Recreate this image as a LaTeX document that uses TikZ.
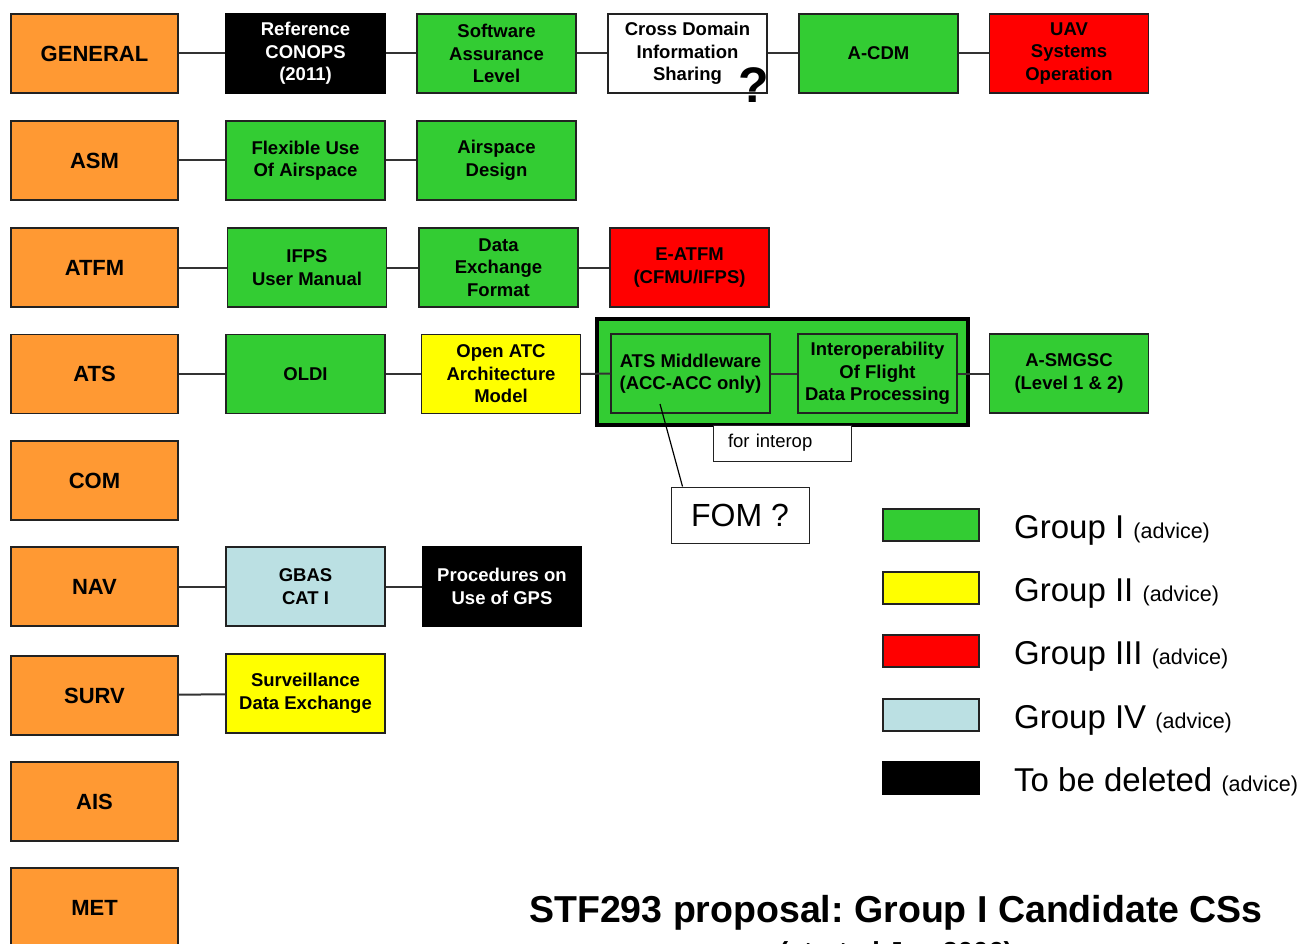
\documentclass[tikz,border=0pt]{standalone}
\usepackage{fontspec}
\setmainfont{Liberation Sans}
\usetikzlibrary{calc}

\definecolor{catorange}{HTML}{FF9933}
\definecolor{grpgreen}{HTML}{33CC33}
\definecolor{grpyellow}{HTML}{FFFF00}
\definecolor{grpred}{HTML}{FF0000}
\definecolor{grpblue}{HTML}{BBE0E3}
\definecolor{edge}{HTML}{222222}
\definecolor{wire}{HTML}{333333}

% smaller qualifier after each legend entry
\newcommand{\advtxt}[1]{{\fontsize{21.5}{24}\selectfont #1}}

\frenchspacing

\begin{document}
\begin{tikzpicture}[x=1pt,y=-1pt,
  box/.style={draw=edge, line width=1.3pt, minimum width=159pt, minimum height=79pt,
    align=center, inner sep=0pt, font=\bfseries\fontsize{18.5}{22.5}\selectfont},
  cat/.style={box, fill=catorange, minimum width=167pt,
    font=\bfseries\fontsize{22}{26}\selectfont},
  gI/.style={box, fill=grpgreen},
  gII/.style={box, fill=grpyellow},
  gIII/.style={box, fill=grpred},
  gIV/.style={box, fill=grpblue},
  gdel/.style={box, fill=black, draw=black, text=white},
  conn/.style={draw=wire, line width=2pt},
  note/.style={draw=edge, line width=1pt, fill=white, inner sep=0pt},
  swatch/.style={draw=edge, line width=1.3pt, minimum width=96pt, minimum height=32pt, inner sep=0pt},
  legtext/.style={anchor=base west, inner sep=0pt, font=\fontsize{33}{36}\selectfont}
]
\useasboundingbox (0,0) rectangle (1311,944);
\clip (0,0) rectangle (1311,944);

% category column
\node[cat] (general) at (94.5,53.5)  {GENERAL};
\node[cat] (asm)     at (94.5,160.5) {ASM};
\node[cat] (atfm)    at (94.5,267.5) {ATFM};
\node[cat] (ats)     at (94.5,374)   {ATS};
\node[cat] (com)     at (94.5,480.5) {COM};
\node[cat] (nav)     at (94.5,586.5) {NAV};
\node[cat] (surv)    at (94.5,695.5) {SURV};
\node[cat] (ais)     at (94.5,801.5) {AIS};
\node[cat] (met)     at (94.5,907.5) {MET};

% GENERAL row
\node[gdel] (conops) at (305.5,53.5) {Reference\\CONOPS\\(2011)};
\node[gI]   (sal)    at (496.5,53.5) {Software\\Assurance\\Level};
\node[box, fill=white] (cdis) at (687.5,53.5) {Cross Domain\\Information\\Sharing};
\node[gI]   (acdm)   at (878.5,53.5) {A-CDM};
\node[gIII] (uav)    at (1069,53.5)  {UAV\\Systems\\Operation};
\node[inner sep=0pt, font=\bfseries\fontsize{50}{50}\selectfont] (qmark) at (754,85) {?};

% ASM row
\node[gI] (fua) at (305.5,160.5) {Flexible Use\\Of Airspace};
\node[gI] (asd) at (496.5,160.5) {Airspace\\Design};

% ATFM row
\node[gI]   (ifps)  at (307,267.5)   {IFPS\\User Manual};
\node[gI]   (dex)   at (498.5,267.5) {Data\\Exchange\\Format};
\node[gIII] (eatfm) at (689.5,267.5) {E-ATFM\\(CFMU/IFPS)};

% ATS row
\node[gI]  (oldi)    at (305.5,374) {OLDI};
\node[gII] (openatc) at (501,374)   {Open ATC\\Architecture\\Model};
\node[draw=black, line width=4.5pt, fill=grpgreen, minimum width=371pt, minimum height=106pt,
  inner sep=0pt] (fdpgroup) at (782.5,372) {};
\node[gI] (mw)     at (690.5,373.5) {ATS Middleware\\(ACC-ACC only)};
\node[gI] (ifdp)   at (877.5,373.5) {Interoperability\\Of Flight\\Data Processing};
\node[gI] (asmgsc) at (1069,373.5)  {A-SMGSC\\(Level 1 \& 2)};
\node[note, text width=108pt, inner xsep=15pt, minimum height=36pt, align=left,
  font=\fontsize{18.5}{22}\selectfont] (interop) at (782,443) {for interop};
\node[note, minimum width=138pt, minimum height=56pt,
  font=\fontsize{32}{36}\selectfont] (fom) at (740,515) {FOM ?};

% NAV row
\node[gIV]  (gbas) at (305.5,586.5) {GBAS\\CAT I};
\node[gdel] (gps)  at (502,586.5)   {Procedures on\\Use of GPS};

% SURV row
\node[gII] (sde) at (305.5,693.5) {Surveillance\\Data Exchange};

% connectors
\draw[conn] (general) -- (conops);
\draw[conn] (conops) -- (sal);
\draw[conn] (sal) -- (cdis);
\draw[conn] (cdis) -- (acdm);
\draw[conn] (acdm) -- (uav);
\draw[conn] (asm) -- (fua);
\draw[conn] (fua) -- (asd);
\draw[conn] (atfm) -- (ifps);
\draw[conn] (ifps) -- (dex);
\draw[conn] (dex) -- (eatfm);
\draw[conn] (ats) -- (oldi);
\draw[conn] (oldi) -- (openatc);
\draw[conn] (openatc) -- (mw);
\draw[conn] (mw) -- (ifdp);
\draw[conn] (ifdp) -- (asmgsc);
\draw[conn] (nav) -- (gbas);
\draw[conn] (gbas) -- (gps);
\draw[conn] (surv) -- (sde);
\coordinate (mwtap) at (660,404);
\draw[draw=black, line width=1.2pt] (mwtap) -- ($(fom.north west)+(12,0)$);

% legend
\node[swatch, fill=grpgreen]  (lgI)   at (931,525) {};
\node[swatch, fill=grpyellow] (lgII)  at (931,588) {};
\node[swatch, fill=grpred]    (lgIII) at (931,651) {};
\node[swatch, fill=grpblue]   (lgIV)  at (931,715) {};
\node[swatch, fill=black, draw=black] (lgdel) at (931,778) {};
\node[legtext] (tI)   at (1014,538) {Group I \advtxt{(advice)}};
\node[legtext] (tII)  at (1014,601) {Group II \advtxt{(advice)}};
\node[legtext] (tIII) at (1014,664) {Group III \advtxt{(advice)}};
\node[legtext] (tIV)  at (1014,728) {Group IV \advtxt{(advice)}};
\node[legtext] (tdel) at (1014,791) {To be deleted \advtxt{(advice)}};

% title
\node[anchor=base, inner sep=0pt, font=\bfseries\fontsize{37.5}{40}\selectfont] (title) at (896,922)
  {STF293 proposal: Group I Candidate CSs};
\node[anchor=base, inner sep=0pt, font=\bfseries\fontsize{27.5}{30}\selectfont] (subtitle) at (896,961)
  {(started Jan 2006)};
\end{tikzpicture}
\end{document}
